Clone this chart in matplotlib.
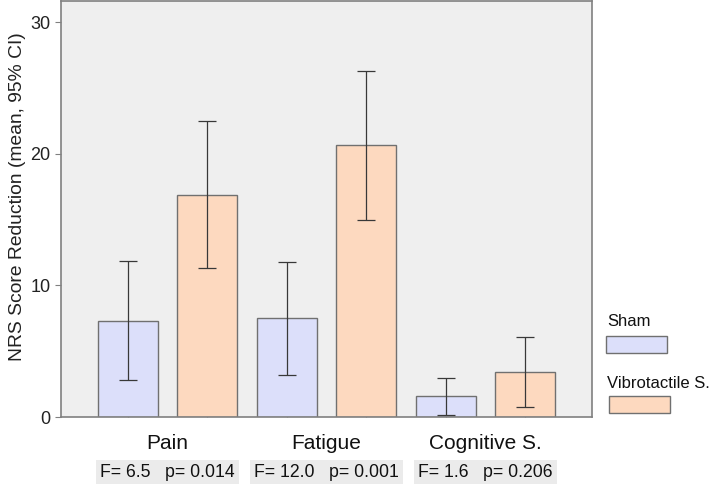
import numpy as np
import matplotlib
matplotlib.use('Agg')
import matplotlib.pyplot as plt
from matplotlib.patches import Rectangle

plt.rcParams['font.family'] = ['Liberation Sans', 'DejaVu Sans']

categories = ['Pain', 'Fatigue', 'Cognitive S.']
stats = ['F= 6.5   p= 0.014', 'F= 12.0   p= 0.001', 'F= 1.6   p= 0.206']
groups = ['Sham', 'Vibrotactile S.']
sham_mean = [7.3, 7.5, 1.6]
sham_lo = [2.8, 3.2, 0.2]
sham_hi = [11.85, 11.8, 3.0]
vibro_mean = [16.9, 20.7, 3.4]
vibro_lo = [11.3, 15.0, 0.8]
vibro_hi = [22.45, 26.3, 6.1]

colors = ['#dcdffa', '#fdd9bf']
edge = '#707070'

fig = plt.figure(figsize=(7.09, 4.84), dpi=100)
ax = fig.add_axes([0.086, 0.138, 0.749, 0.86])
ax.set_facecolor('#efefef')

series = [(sham_mean, sham_lo, sham_hi), (vibro_mean, vibro_lo, vibro_hi)]
centers = []
for g, (m, lo, hi) in enumerate(series):
    x = np.arange(len(categories)) * 2 + g
    centers.append(x)
    m = np.array(m)
    yerr = [m - np.array(lo), np.array(hi) - m]
    ax.bar(x, m, width=0.76, color=colors[g], edgecolor=edge, linewidth=1, zorder=2)
    ax.errorbar(x, m, yerr=yerr, fmt='none', ecolor='#383838', elinewidth=0.9,
                capsize=6.5, capthick=0.9, zorder=3)

allx = np.sort(np.concatenate(centers))
ax.set_xlim(-0.84, 5.84)
ax.set_ylim(0, 31.6)
ax.set_yticks([0, 10, 20, 30])
ax.set_xticks(allx)
ax.set_xticklabels([])
ax.tick_params(axis='x', length=3, direction='in', color='#909090')
ax.tick_params(axis='y', length=4, color='#808080', labelsize=13, labelcolor='#222222')
for s in ax.spines.values():
    s.set_color('#808080')
    s.set_linewidth(1.2)

ax.set_ylabel('NRS Score Reduction (mean, 95% CI)', fontsize=13.9, color='#222222')
ax.yaxis.set_label_coords(-0.066, 0.529)

for i, (c, st) in enumerate(zip(categories, stats)):
    xc = i * 2 + 0.5
    ax.text(xc, -2.0, c, ha='center', va='center',
            fontsize=15, color='#111111', clip_on=False)
    ax.text(xc, -4.2, st, ha='center', va='center', fontsize=12.7, color='#111111',
            clip_on=False, bbox=dict(boxstyle='square,pad=0.25', fc='#ebebeb', ec='none'))

# legend outside on the right
ypos = [(0.335, 0.289), (0.207, 0.164)]
for g in range(2):
    ty, py = ypos[g]
    fig.text(0.856, ty, groups[g], fontsize=12, color='#111111', va='center')
    fig.patches.append(Rectangle((0.855 + 0.004 * g, py - 0.018), 0.086, 0.035,
                                 transform=fig.transFigure, fc=colors[g], ec=edge, lw=1))

fig.savefig('out.png', dpi=100)
